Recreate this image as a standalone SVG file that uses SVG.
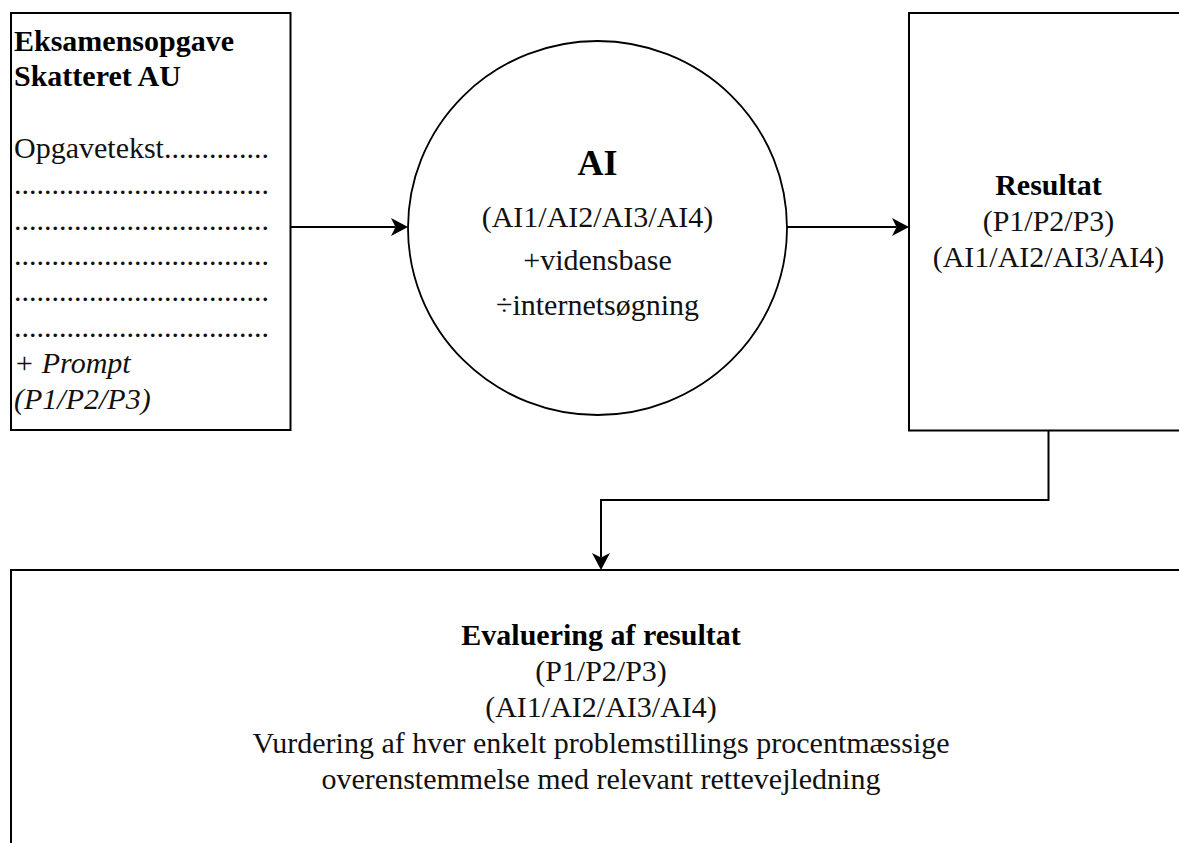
<svg xmlns="http://www.w3.org/2000/svg" width="1179" height="843" viewBox="0 0 1179 843">
<style>
.box{fill:#fff;stroke:#000;stroke-width:2}
.edge{fill:none;stroke:#000;stroke-width:2}
.t{font-family:"Liberation Serif","Times New Roman",serif;font-size:30px;fill:#111}
.b{font-weight:bold;fill:#000}
.i{font-style:italic}
.c{text-anchor:middle}
</style>
<defs>
<marker id="arr" markerUnits="userSpaceOnUse" viewBox="0 0 18 18" markerWidth="18" markerHeight="18" refX="4.5" refY="9" orient="auto">
<path d="M0,0 L17,9 L0,18 L4.5,9 Z" fill="#000"/>
</marker>
</defs>
<rect width="1179" height="843" fill="#fff"/>
<g id="node-opgave">
<rect class="box" x="11" y="13" width="279.5" height="417"/>
<text class="t b" x="14" y="50.5">Eksamensopgave</text>
<text class="t b" x="14" y="86.3">Skatteret AU</text>
<text class="t" x="14" y="157.9">Opgavetekst..............</text>
<text class="t" x="14" y="193.7">..................................</text>
<text class="t" x="14" y="229.5">..................................</text>
<text class="t" x="14" y="265.3">..................................</text>
<text class="t" x="14" y="301.1">..................................</text>
<text class="t" x="14" y="336.9">..................................</text>
<text class="t i" x="14" y="372.7">+ Prompt</text>
<text class="t i" x="14" y="408.5">(P1/P2/P3)</text>
</g>
<g id="node-ai">
<ellipse class="box" cx="597.5" cy="228" rx="189.5" ry="187" style="stroke-width:1.8"/>
<text class="t b c" x="597.5" y="175" style="font-size:36px">AI</text>
<text class="t c" x="597.5" y="227">(AI1/AI2/AI3/AI4)</text>
<text class="t c" x="597.5" y="270">+vidensbase</text>
<text class="t c" x="597.5" y="315">÷internetsøgning</text>
</g>
<g id="node-resultat">
<rect class="box" x="909" y="13" width="279" height="417.5"/>
<text class="t b c" x="1048.5" y="194.5">Resultat</text>
<text class="t c" x="1048.5" y="230.5">(P1/P2/P3)</text>
<text class="t c" x="1048.5" y="266.5">(AI1/AI2/AI3/AI4)</text>
</g>
<g id="node-evaluering">
<rect class="box" x="11" y="570" width="1180" height="290"/>
<text class="t b c" x="601" y="645">Evaluering af resultat</text>
<text class="t c" x="601" y="681">(P1/P2/P3)</text>
<text class="t c" x="601" y="717">(AI1/AI2/AI3/AI4)</text>
<text class="t c" x="601" y="753">Vurdering af hver enkelt problemstillings procentmæssige</text>
<text class="t c" x="601" y="789">overenstemmelse med relevant rettevejledning</text>
</g>
<g id="connectors">
<path class="edge" d="M290.5,227 L395.5,227" marker-end="url(#arr)"/>
<path class="edge" d="M787,227 L896.5,227" marker-end="url(#arr)"/>
<path class="edge" d="M1048.5,430.5 L1048.5,500 L601,500 L601,557.5" marker-end="url(#arr)"/>
</g>
</svg>
